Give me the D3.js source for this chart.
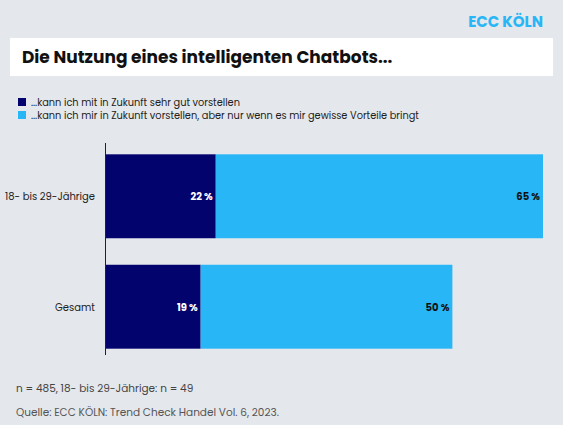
<!DOCTYPE html>
<html><head><meta charset="utf-8">
<script src="https://cdn.jsdelivr.net/npm/d3@7"></script>
<style>body{margin:0;background:#e4e7eb;font-family:Poppins,"Open Sans",sans-serif;}</style>
</head><body><div id="chart"></div>
<script>
const categories = ["18- bis 29-Jährige", "Gesamt"];
const seriesNames = ["...kann ich mit in Zukunft sehr gut vorstellen",
  "...kann ich mir in Zukunft vorstellen, aber nur wenn es mir gewisse Vorteile bringt"];
const sehrGut = [22, 19];
const vorteile = [65, 50];
const colors = ["#03036e", "#29b6f6"];

const W = 563, H = 425;
const svg = d3.select("#chart").append("svg").attr("width", W).attr("height", H);
svg.append("rect").attr("width", W).attr("height", H).attr("fill", "#e4e7eb");

// Header
svg.append("text").attr("x", 543).attr("y", 27).attr("text-anchor", "end")
  .attr("font-size", 15).attr("font-weight", 700).attr("fill", "#29b6f6").text("ECC KÖLN");
svg.append("rect").attr("x", 10).attr("y", 38).attr("width", 543).attr("height", 38).attr("fill", "#fff");
svg.append("text").attr("x", 22).attr("y", 63).attr("font-size", 17).attr("font-weight", 700)
  .attr("fill", "#111").text("Die Nutzung eines intelligenten Chatbots...");

// Legend
seriesNames.forEach((n, i) => {
  svg.append("rect").attr("x", 18).attr("y", 98 + i * 13).attr("width", 8).attr("height", 8).attr("fill", colors[i]);
  svg.append("text").attr("x", 31).attr("y", 105.5 + i * 13).attr("font-size", 9.8).attr("fill", "#222").text(n);
});

const x = d3.scaleLinear().domain([0, 87]).range([105, 543]);
const y = d3.scaleBand().domain(categories).range([151, 352]).paddingInner(0.24).paddingOuter(0.03);

const g = svg.append("g");
categories.forEach((c, i) => {
  const a = sehrGut[i], b = vorteile[i];
  g.append("rect").attr("x", x(0)).attr("y", y(c)).attr("width", x(a) - x(0)).attr("height", y.bandwidth()).attr("fill", colors[0]);
  g.append("rect").attr("x", x(a)).attr("y", y(c)).attr("width", x(a + b) - x(a)).attr("height", y.bandwidth()).attr("fill", colors[1]);
  const cy = y(c) + y.bandwidth() / 2 + 4;
  g.append("text").attr("x", x(a) - 3).attr("y", cy).attr("text-anchor", "end").attr("font-size", 10)
    .attr("font-weight", 700).attr("fill", "#fff").text(a + " %");
  g.append("text").attr("x", x(a + b) - 3).attr("y", cy).attr("text-anchor", "end").attr("font-size", 10)
    .attr("font-weight", 700).attr("fill", "#111").text(b + " %");
  g.append("text").attr("x", 95).attr("y", cy).attr("text-anchor", "end").attr("font-size", 10)
    .attr("fill", "#222").text(c);
});
svg.append("line").attr("x1", 105.5).attr("x2", 105.5).attr("y1", 143).attr("y2", 355).attr("stroke", "#222");

svg.append("text").attr("x", 16).attr("y", 392).attr("font-size", 10.5).attr("fill", "#444")
  .text("n = 485, 18- bis 29-Jährige: n = 49");
svg.append("text").attr("x", 16).attr("y", 416).attr("font-size", 10.5).attr("fill", "#555")
  .text("Quelle: ECC KÖLN: Trend Check Handel Vol. 6, 2023.");
</script></body></html>
